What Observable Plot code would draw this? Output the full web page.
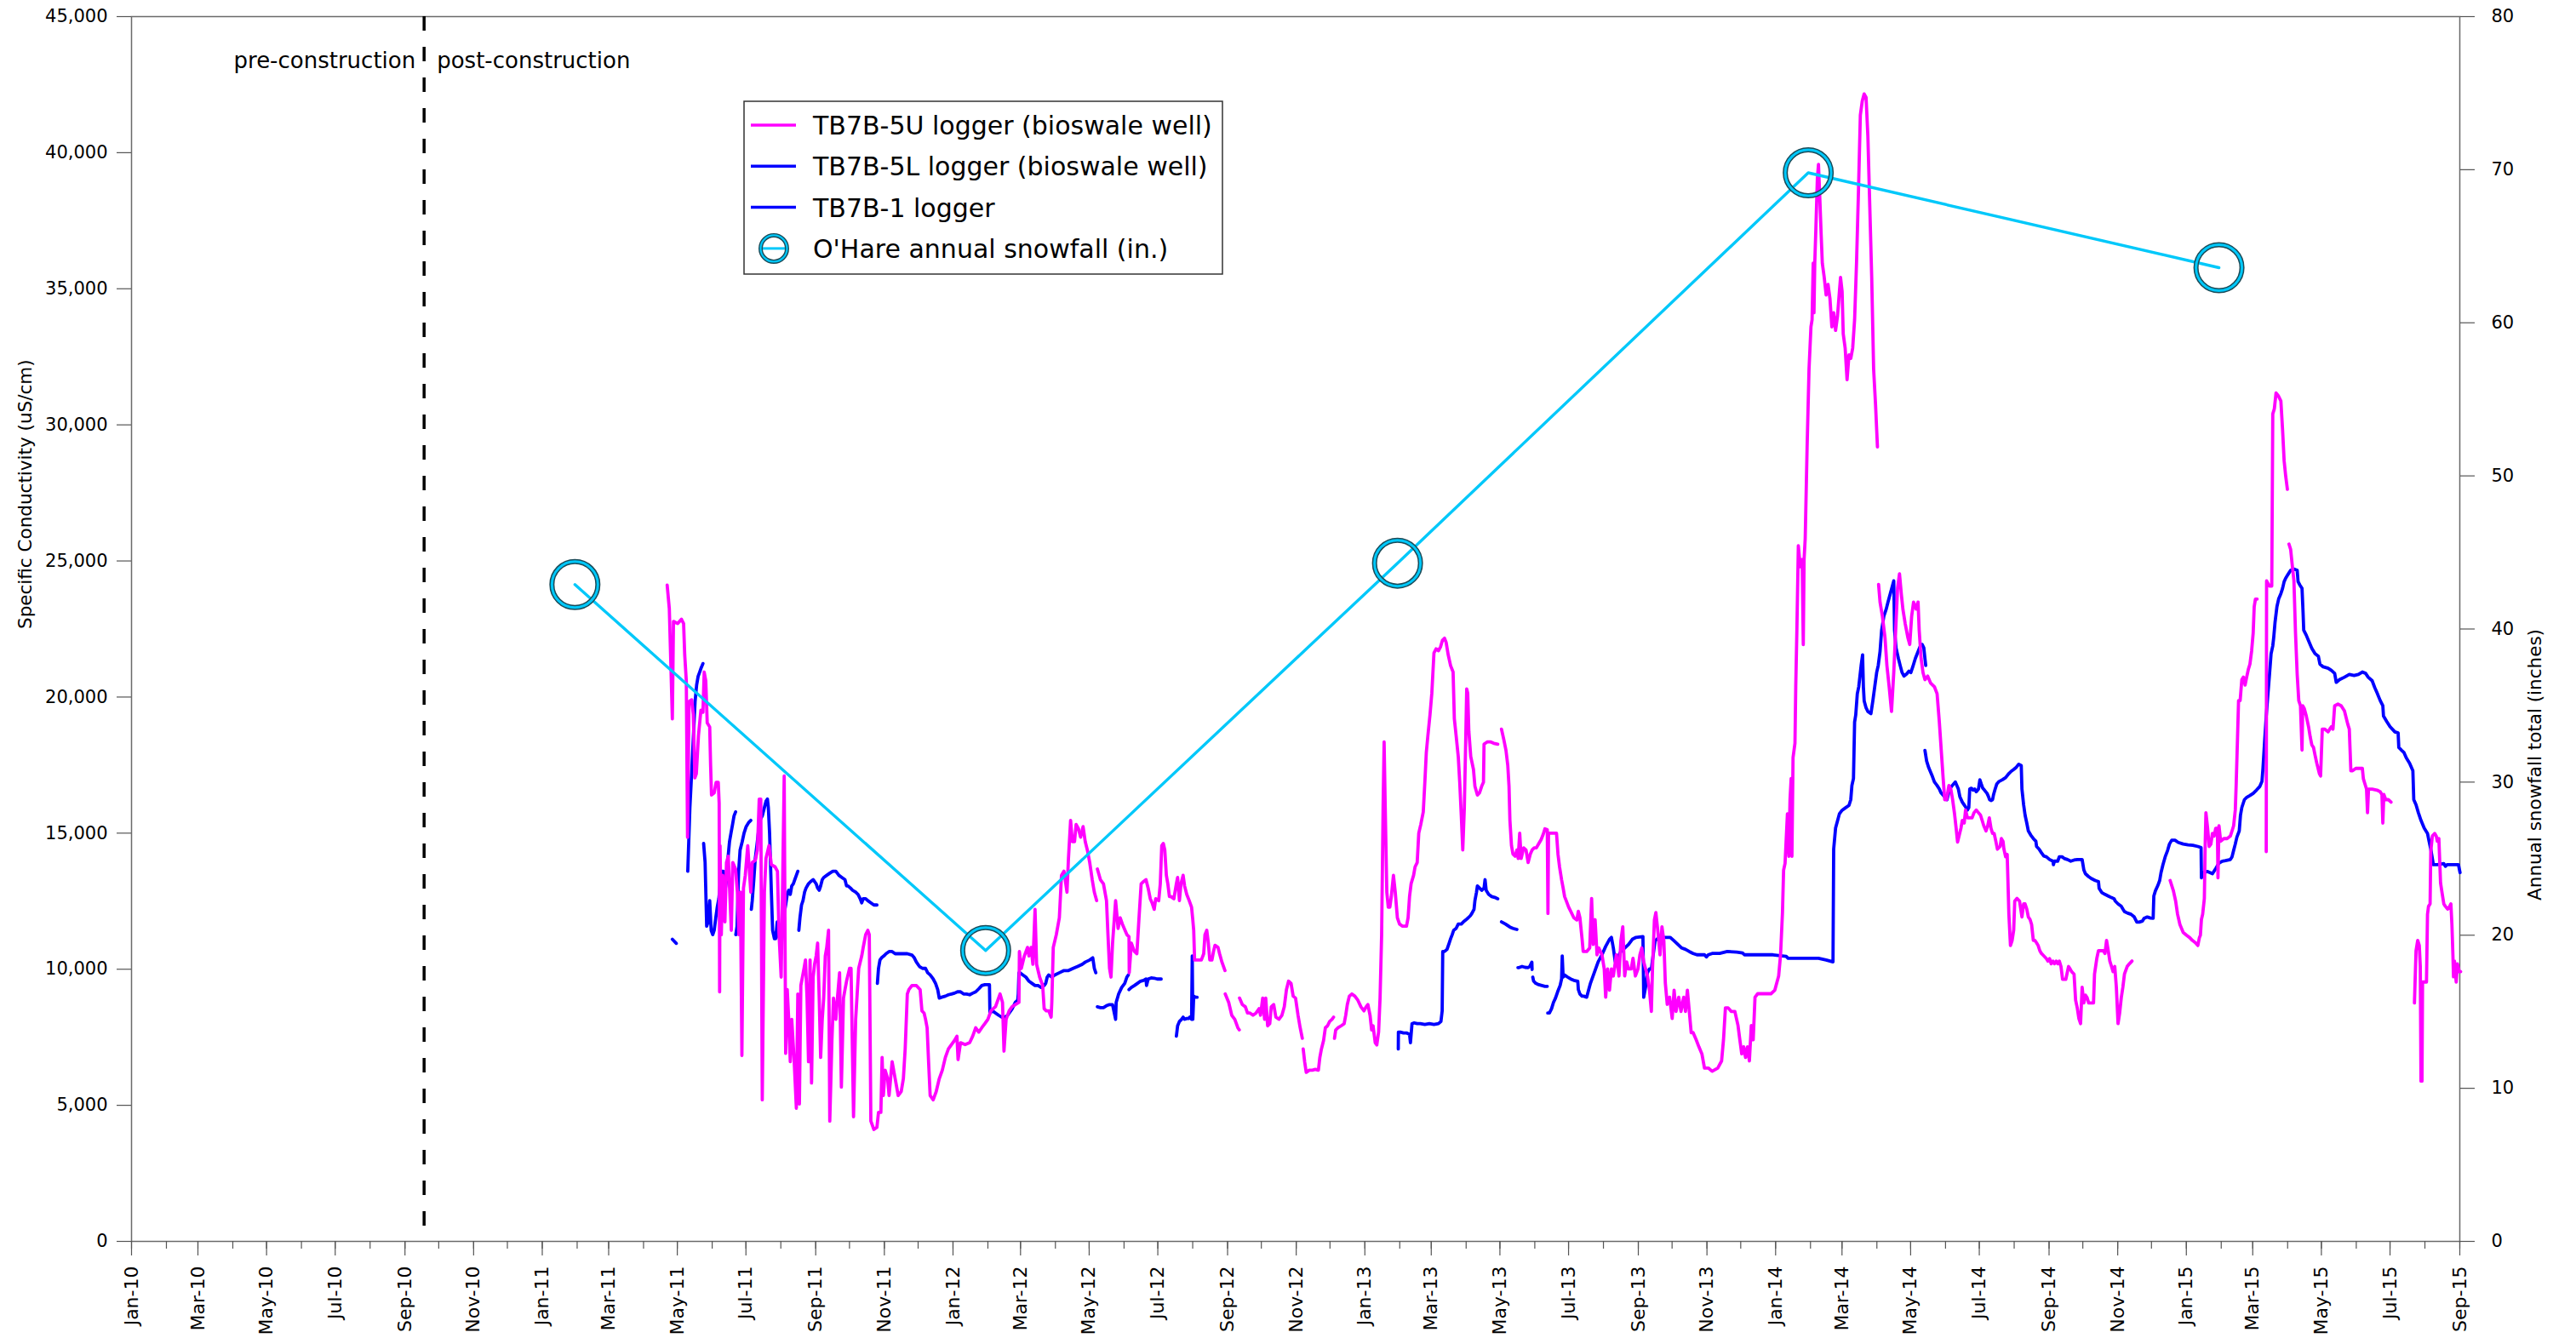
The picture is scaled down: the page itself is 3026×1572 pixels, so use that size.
<!DOCTYPE html>
<html>
<head>
<meta charset="utf-8">
<script src="https://cdn.jsdelivr.net/npm/d3@7"></script>
<script src="https://cdn.jsdelivr.net/npm/@observablehq/plot@0.6"></script>
<style>
  html, body { margin: 0; padding: 0; background: #fff; }
  #chart svg { display: block; }
</style>
</head>
<body>
<div id="chart"></div>
<script>
// Logger readings as [days since 2010-01-01, specific conductivity in uS/cm].
// A null entry marks a break in the logger record.
const recordStart = Date.UTC(2010, 0, 1);

const tb7b5U = [
  [476.0,24110],[477.9,23250],[480.6,19200],[481.6,22780],[485.4,22700],[488.7,22860],[490.6,22700],[491.6,21540],[493.0,20600],[494.1,14850],[495.4,19830],[497.8,19900],[499.2,19360],[500.6,17030],[501.9,17180],[503.8,18580],[506.0,19520],[507.8,19440],[508.9,20920],[510.3,20600],[511.6,19050],[513.8,18900],[514.6,17490],[515.4,16400],[517.8,16480],[519.5,16870],[521.4,16870],[522.2,16100],
  [522.6,9170],[523.0,14540],[524.1,11270],[525.4,13450],[527.3,11740],[528.7,13920],[530.3,14150],[531.6,12830],[533.0,11430],[534.3,13920],[536.8,13680],[538.4,12830],[539.7,11270],[541.1,12830],[542.4,6830],[543.8,12980],[545.4,13450],[547.6,14540],[550.3,12830],[551.6,13920],[554.3,14000],[556.2,14380],[557.8,16250],[559.2,16250],[560.5,5200],[562.4,12830],[563.8,14070],[566.5,14540],[568.6,13840],[571.9,13760],[574.0,13600],[575.4,11270],[577.3,9710],[578.6,13140],[580.0,17100],[581.3,6910],[582.7,9250],[584.0,8160],[585.4,6600],[586.7,8160],[588.9,6600],[590.8,4890],[592.1,9090],[593.5,5050],[594.8,9400],[597.6,10030],[598.9,10340],[600.3,8940],[601.6,6600],[603.0,10340],[604.3,5820],[605.7,9710],[607.0,10180],[608.4,10490],[609.7,10960],[611.1,8940],[612.4,6760],[613.8,8160],[615.1,8940],[616.5,10490],[617.8,10800],[619.4,11430],[620.5,4420],[622.4,7380],[623.8,8940],[625.9,8160],[627.3,8940],[629.2,9870],[630.8,5670],[632.7,8940],[634.0,9250],[635.4,9560],[638.1,10030],[639.4,10030],[641.6,4580],[643.5,8160],[646.2,10030],[648.9,10490],[650.2,10800],[652.4,11270],[654.3,11430],[655.6,11270],[657.0,4420],[659.7,4110],[662.4,4190],[663.8,4740],[665.9,4740],[667.0,6760],[668.1,5360],[669.7,6290],[671.9,5980],[673.2,5360],[675.9,6600],[678.6,5980],[681.3,5360],[684.0,5510],[685.9,5980],[687.5,7070],[689.4,9090],[690.8,9250],[693.5,9400],[697.5,9400],[700.8,9250],[702.4,8470],[704.3,8390],[705.6,8160],[707.0,7850],[708.3,6600],[709.7,5360],[712.4,5200],[715.1,5510],[717.8,5980],[720.5,6290],[723.2,6760],[725.9,7070],[728.6,7230],[731.3,7380],[733.5,7540],[734.5,6680],[736.7,7300],[740.8,7230],[744.8,7300],[747.5,7540],[750.2,7850],[752.9,7690],[755.6,7850],[758.3,8000],[761.0,8160],[763.7,8470],[767.8,8630],[771.8,9090],[774.0,8780],[775.3,6990],[777.2,8160],[779.9,8470],[782.6,8630],[785.3,8700],[788.6,8780],[789.0,10650],[790.7,10030],[793.4,10490],[796.2,10800],[797.5,10490],[799.4,10800],[801.0,10180],[802.9,12200],[804.3,10180],[807.0,9710],[809.7,9400],[811.0,8550],[812.9,8470],[815.1,8470],[817.2,8240],[817.8,8780],[819.1,10800],[821.8,11270],[824.5,11890],[826.4,13450],[828.6,13600],[831.3,12830],[832.6,14070],[834.5,15470],[836.1,14690],[838.0,14690],[839.4,15320],[841.5,15160],[843.4,14850],[845.6,15240],[847.5,14690],[849.4,14380],[851.5,13920],[853.7,13290],[855.6,12830],[857.7,12520],
  null,
  [858.3,13680],[861.0,13290],[863.7,13140],[866.4,12520],[867.7,11270],[869.1,10030],[870.4,9710],[871.8,10960],[874.5,12520],[876.7,11500],[878.6,11890],[880.5,11660],[884.5,11270],[886.4,11190],[886.6,9870],[888.5,10960],[891.2,10650],[893.4,10570],[895.3,11890],[897.2,13140],[899.3,13220],[901.5,13290],[903.4,12980],[905.3,12590],[906.9,12440],[908.8,12200],[910.1,12590],[912.8,12520],[914.2,13140],[915.5,14540],[916.9,14620],[918.2,14380],[919.6,13450],[920.9,13140],[922.3,12670],[923.6,12670],[926.3,12590],[928.5,13140],[929.6,13370],[931.2,12520],[932.6,13140],[934.5,13450],[935.8,13060],[937.7,12750],[939.9,12520],[942.0,12280],[943.1,11810],[943.9,11430],[944.7,10340],[948.0,10340],[950.7,10340],[952.8,10570],[953.9,11270],[955.5,11430],[956.9,10960],[958.2,10340],[960.1,10340],[961.5,10650],[962.8,10880],[965.5,10800],[966.9,10570],[969.0,10260],[971.7,9950],
  null,
  [971.9,9090],[975.0,8780],[977.7,8310],[980.4,8160],[983.1,7850],[984.4,7770],
  null,
  [984.6,8940],[987.1,8700],[989.8,8620],[991.7,8390],[993.9,8390],[996.6,8310],[999.3,8390],[1002.0,8550],[1003.3,8310],[1005.2,8940],[1006.9,8160],[1007.9,8940],[1009.6,7920],[1011.5,8000],[1012.8,8620],[1015.0,8700],[1016.9,8240],[1019.6,8160],[1022.3,8310],[1024.4,8620],[1026.3,9250],[1028.2,9560],[1030.4,9480],[1032.3,9010],[1034.4,8940],[1036.6,8310],[1038.5,7850],[1040.4,7460],
  null,
  [1041.2,7070],[1042.5,6600],[1043.9,6210],[1046.6,6290],[1049.3,6290],[1052.0,6320],[1054.7,6290],[1056.0,6760],[1057.4,7070],[1059.3,7380],[1060.9,7850],[1062.8,7920],[1064.7,8080],[1066.8,8160],[1068.2,8240],
  null,
  [1069.0,7460],[1070.1,7770],[1072.2,7850],[1074.9,7920],[1077.6,8000],[1079.0,8310],[1080.4,8700],[1082.2,9010],[1084.4,9090],[1087.1,9010],[1089.8,8860],[1092.5,8620],[1095.2,8470],[1097.1,8620],[1098.7,8700],[1100.6,8310],[1102.0,7770],[1103.3,7920],[1105.2,7300],[1106.6,7220],[1108.2,7690],[1109.5,8940],[1110.9,11270],[1112.2,15940],[1113.1,18350],[1114.1,15940],[1115.5,12830],[1116.8,12280],[1118.2,12280],[1119.5,12670],[1121.4,13450],[1123.0,12830],[1124.9,11890],[1126.8,11660],[1129.5,11580],[1133.0,11580],[1134.4,11890],[1135.7,12670],[1137.1,13140],[1139.3,13450],[1140.6,13760],[1142.5,13920],[1143.9,15000],[1145.7,15320],[1147.9,15780],[1149.3,16870],[1150.6,17960],[1152.0,18580],[1153.9,19360],[1155.5,20140],[1157.4,21620],[1159.3,21770],[1161.4,21700],[1163.3,21850],[1164.9,22080],[1166.8,22160],[1168.2,22010],[1170.1,21540],[1172.2,21150],[1174.4,20920],[1175.5,19210],[1177.1,18580],[1179.0,17810],[1180.3,16870],[1181.7,15630],[1183.0,14380],[1184.4,15940],[1185.7,18580],[1186.5,20300],[1187.4,20140],[1188.4,18740],[1190.1,17810],[1192.5,17340],[1193.8,16720],[1196.0,16400],[1197.9,16480],[1199.8,16720],[1201.4,16870],[1201.9,18270],[1204.7,18350],[1207.9,18350],[1210.6,18300],[1214.1,18270],
  null,
  [1217.4,18820],[1219.5,18430],[1221.4,18040],[1223.0,17490],[1224.1,16720],[1224.9,15470],[1226.3,14540],[1227.6,14230],[1229.5,14150],[1231.1,14380],[1232.2,14070],[1233.6,15000],[1234.9,14070],[1237.1,14460],[1239.2,14380],[1241.1,13920],[1243.0,14230],[1244.6,14380],[1246.5,14460],[1248.4,14460],[1250.6,14620],[1252.7,14770],[1254.6,14970],[1256.0,15160],[1258.1,15130],[1258.7,12050],[1259.2,15000],[1261.4,15000],[1264.1,15000],[1266.3,15000],[1267.6,14230],[1269.0,13760],[1270.8,13290],[1272.2,12980],[1273.5,12670],[1274.9,12520],[1277.1,12280],[1278.9,12130],[1281.7,11890],[1284.4,11810],[1285.7,12130],[1287.1,11890],[1289.0,11120],[1290.0,10650],
  [1293.1,10650],[1295.8,10780],[1297.5,12600],[1298.9,10910],[1300.6,11820],[1302.3,10530],[1303.9,10780],[1306.7,10530],[1308.7,10010],[1310.0,8970],[1311.7,10010],[1313.4,9230],[1315.1,10010],[1316.8,9750],[1319.5,10530],[1321.8,9750],[1323.5,11040],[1325.2,11560],[1326.9,9750],[1328.6,10270],[1330.3,10010],[1332.7,10010],[1334.3,10400],[1336.4,9750],[1338.7,10010],[1340.4,10530],[1342.1,10780],[1343.8,10270],[1345.5,10010],[1347.2,9750],[1348.9,9230],[1350.6,8450],[1351.6,10010],[1353.3,11820],[1354.6,12080],[1356.6,11300],[1358.3,10530],[1360.0,11560],[1361.7,11040],[1363.0,9490],[1364.7,8710],[1366.8,8970],[1369.1,8190],[1370.8,9230],[1372.5,8450],[1374.9,8970],[1376.9,8450],[1379.3,8970],[1380.9,8450],[1382.6,9230],[1384.3,8450],[1386.0,7670],[1387.7,7670],[1390.4,7410],[1392.8,7150],[1395.5,6890],[1397.8,6370],[1401.2,6370],[1404.6,6250],[1409.6,6370],[1413.0,6630],[1414.7,7410],[1416.4,8580],[1418.8,8580],[1421.5,8450],[1424.8,8450],[1427.6,7930],[1429.2,7410],[1430.9,6890],[1432.6,7150],[1434.3,6760],[1436.0,7150],[1437.7,6630],[1439.4,7930],[1441.1,7410],[1442.7,8970],[1445.1,9100],[1448.5,9100],[1451.9,9100],[1456.9,9100],[1460.3,9230],[1463.7,9750],[1465.4,10530],[1467.1,12080],[1468.1,13640],[1469.4,13890],[1471.5,15710],[1472.8,14150],[1473.8,16230],[1474.8,17010],[1475.5,14150],[1476.5,17780],[1478.2,18300],[1478.9,20380],[1479.9,22450],[1481.2,25560],[1482.9,24790],[1484.6,25050],[1485.6,21930],[1486.3,25050],[1487.3,25820],[1489.0,29190],[1490.7,32050],[1492.4,33600],[1493.4,33860],[1494.4,35940],[1495.1,34120],[1495.8,35940],[1496.8,37230],[1498.1,39050],[1499.1,39570],[1500.1,38530],[1501.5,36970],[1502.5,35940],[1504.2,35420],[1505.9,34770],[1507.6,35160],[1509.3,34640],[1511.0,33600],[1512.6,34120],[1514.3,33470],[1516.0,33990],[1517.7,34900],[1518.7,35420],[1520.1,34900],[1521.1,33340],[1522.8,32820],[1524.5,31660],[1526.2,32570],[1527.8,32440],[1529.5,32820],[1531.2,33860],[1532.9,35940],[1534.6,38530],[1536.3,41380],[1538.0,41900],[1539.7,42160],[1541.4,42030],[1543.0,40600],[1544.7,38010],[1546.4,35420],[1548.1,32050],[1549.8,30750],[1551.5,29190],
  null,
  [1552.5,24140],[1553.8,23490],[1555.9,22970],[1558.2,22190],[1559.9,21160],[1561.9,20380],[1564.0,19470],[1566.0,20900],[1567.4,22190],[1569.4,24010],[1571.1,24530],[1572.8,23750],[1574.1,23230],[1576.1,22710],[1578.5,22190],[1580.2,21930],[1581.9,22970],[1583.6,23490],[1585.9,23230],[1587.6,23490],[1588.6,22450],[1590.3,21410],[1592.0,20900],[1593.7,20640],[1596.1,20770],[1598.8,20510],[1602.1,20380],[1604.5,20120],[1606.5,19080],[1608.2,18040],[1609.9,17010],[1611.3,16230],[1612.9,16230],[1615.0,16750],[1616.7,16620],[1618.3,16230],[1620.0,15710],[1621.4,15190],[1622.7,14670],
  [1625.7,15180],[1626.9,15470],[1628.6,15370],[1629.8,15850],[1631.5,15560],[1633.5,15560],[1635.6,15560],[1637.3,15750],[1639.3,15850],[1641.3,15750],[1643.1,15660],[1644.5,15470],[1646.0,15270],[1648.0,15080],[1649.5,15270],[1650.9,15560],[1652.4,15180],[1653.8,14990],[1655.2,14990],[1656.7,14700],[1658.1,14410],[1660.5,14510],[1661.6,14800],[1663.1,14700],[1663.9,14410],[1665.4,14130],[1666.8,14220],[1668.3,12020],[1669.7,10870],[1671.2,11060],[1672.6,11450],[1673.5,12500],[1675.5,12600],[1677.8,12500],[1679.9,11920],[1681.4,12400],[1682.7,12400],[1684.2,12210],[1685.6,11920],[1687.1,11830],[1688.5,11640],[1690.0,11060],[1691.4,11060],[1692.9,10970],[1694.3,10870],[1695.8,10680],[1697.2,10580],[1699.3,10490],[1701.6,10390],[1703.0,10300],[1704.5,10390],[1705.9,10200],[1707.4,10300],[1708.8,10200],[1710.3,10300],[1711.7,10200],[1713.1,10300],[1714.6,10100],[1716.0,9630],[1718.9,9630],[1721.3,10100],[1722.7,10010],[1724.1,9910],[1726.2,9820],[1727.6,8860],[1729.1,8570],[1730.5,8190],[1732.0,8000],[1733.4,9340],[1734.9,8760],[1736.3,9050],[1737.8,8960],[1739.2,8760],[1741.5,8760],[1743.5,8760],[1744.4,9820],[1746.4,10390],[1747.9,10680],[1750.2,10680],[1752.2,10680],[1753.7,10580],[1755.1,11060],[1756.6,10680],[1758.0,10300],[1759.5,10100],[1760.9,9910],[1762.4,10100],[1763.8,9340],[1765.3,8000],[1766.7,8380],[1768.2,8960],[1769.6,9340],[1771.0,9820],[1773.4,10100],[1775.4,10200],[1777.7,10300],
  null,
  [1811.6,13260],[1814.5,12880],[1816.5,12500],[1818.2,12020],[1820.3,11640],[1823.2,11350],[1826.1,11250],[1829.0,11160],[1831.3,11060],[1834.2,10970],[1836.2,10870],[1837.6,11160],[1838.5,11250],[1839.4,11830],[1840.5,12020],[1842.0,12600],[1842.8,14700],[1843.4,15750],[1844.9,15180],[1846.3,14510],[1847.8,14600],[1849.2,14990],[1850.7,14890],[1852.1,15180],[1853.6,15180],[1854.1,13360],[1855.0,15270],[1856.5,14700],[1859.3,14800],[1862.2,14800],[1865.1,14890],[1866.6,15080],[1868.0,15270],[1869.5,15850],[1870.3,16810],[1871.5,18530],[1872.4,19870],[1873.8,19870],[1875.3,20640],[1876.7,20730],[1878.2,20440],[1879.6,20730],[1881.1,21020],[1882.5,21210],[1884.0,21690],[1885.4,22360],[1886.3,23320],[1887.4,23600],[1888.9,23600],
  null,
  [1897.0,14320],[1897.3,24270],[1898.4,24180],[1899.9,24080],[1901.9,24080],[1902.8,30400],[1904.2,30590],[1905.7,31170],[1907.7,31070],[1910.0,30880],[1911.5,29830],[1912.9,28680],[1914.3,28110],[1915.8,27630],
  null,
  [1917.2,25620],[1918.7,25420],[1920.1,24850],[1921.6,24270],[1923.0,22360],[1924.5,20830],[1925.9,19870],[1927.4,19680],[1928.8,18050],[1929.4,19680],[1930.8,19580],[1932.6,19300],[1934.6,18910],[1936.1,18530],[1937.5,18240],[1939.0,18150],[1940.4,17860],[1941.9,17570],[1944.2,17190],[1945.3,17100],[1946.8,18820],[1949.1,18820],[1952.0,18720],[1953.4,18820],[1954.9,18910],[1956.3,18820],[1957.8,19680],[1960.7,19740],[1963.6,19680],[1966.5,19490],[1969.4,19010],[1970.8,18820],[1972.2,17290],[1973.7,17290],[1976.6,17380],[1982.4,17380],[1983.3,17000],[1984.7,16810],[1986.1,16620],[1987.0,15750],[1987.9,16620],[1991.1,16620],[1995.4,16580],[1998.3,16520],[1999.8,16420],[2000.6,15370],[2001.5,16420],[2003.2,16230],[2005.5,16230],[2007.9,16140],
  null,
  [2028.7,8760],[2030.1,10680],[2031.6,11060],[2033.0,10870],[2033.9,10100],[2034.5,5890],[2035.4,5890],[2035.9,9530],[2038.0,9530],[2039.4,9530],[2040.3,12020],[2041.2,12310],[2042.6,12400],[2043.2,14320],[2044.6,14890],[2046.7,14990],[2048.1,14890],[2049.0,14700],[2050.4,14800],[2051.9,13170],[2053.3,12790],[2054.8,12400],[2056.2,12310],[2058.2,12210],[2060.0,12310],[2061.1,12400],[2062.0,11640],[2062.9,10490],[2063.4,9720],[2064.3,10300],[2065.8,9530],[2066.9,10200],[2068.6,9910],[2069.8,9910]
];

const tb7b5L = [
  [480.6,11100],[484.1,10950],
  null,
  [494.3,13600],[496.2,15940],[498.1,17490],[499.5,18740],[500.8,19830],[502.2,20450],[503.5,20760],[504.9,20920],[506.2,21070],[507.8,21230],
  null,
  [508.4,14620],[509.7,13920],[511.1,11580],[512.4,11740],[513.8,12520],[515.1,11430],[516.5,11270],[517.8,11430],[519.2,11890],[520.5,12280],[521.9,12590],[523.2,13140],[524.6,13600],[526.0,13600],[527.3,12830],[528.7,13290],[530.0,14070],[531.4,14690],[532.7,15000],[534.1,15320],[535.4,15630],[536.8,15780],
  null,
  [537.0,11270],[538.1,11580],[539.5,13600],[540.8,14380],[542.7,14690],[544.3,15000],[546.2,15240],[548.4,15390],[550.3,15470],
  null,
  [550.8,12200],[551.6,12520],[553.0,13290],[554.3,14070],[555.7,14540],[557.0,15000],[558.4,15470],[560.5,15630],[562.4,15940],[563.8,16170],[565.1,16250],[565.9,15940],[567.0,15000],[567.8,13920],[568.6,12830],[569.7,11430],[571.3,11120],[572.4,11120],[573.8,11740],[574.6,11270],[575.9,11120],[577.3,10800],[578.6,11580],[580.0,12050],[581.3,12360],[582.7,12750],[584.0,12900],[585.4,12750],[586.7,13060],[588.1,13140],[589.4,13290],[590.8,13450],[592.1,13600],
  null,
  [593.0,11430],[594.0,11890],[595.4,12360],[596.7,12520],[598.1,12830],[599.4,12980],[601.6,13140],[603.5,13220],[605.7,13290],[607.0,13220],[608.4,13140],[609.7,12980],[611.1,12900],[612.4,13060],[613.8,13290],[615.1,13370],[617.8,13450],[620.5,13530],[623.2,13600],[625.9,13600],[628.6,13450],[631.3,13370],[634.0,13290],[635.4,13060],[636.7,13060],[638.9,12980],[640.8,12900],[643.5,12830],[645.6,12750],[647.5,12590],[648.9,12440],[650.2,12590],[652.4,12590],[654.3,12520],[657.0,12440],[659.7,12360],[662.4,12360],
  null,
  [662.8,9480],[663.8,10030],[665.1,10340],[666.5,10420],[668.6,10490],[670.5,10570],[673.2,10650],[675.9,10650],[678.6,10570],[681.3,10570],[685.4,10570],[689.4,10570],[693.5,10520],[695.6,10420],[697.5,10260],[700.2,10100],[702.9,10030],[705.6,10030],[707.5,9870],[709.7,9790],[712.4,9640],[714.5,9480],[716.4,9250],[717.8,8940],[719.9,8970],[723.2,9010],[725.9,9060],[728.6,9090],[731.3,9120],[734.0,9170],[736.7,9170],[739.4,9090],[742.1,9090],[744.8,9060],[747.5,9120],[750.2,9170],[752.9,9280],[755.6,9400],[758.3,9430],[762.4,9430],[762.8,8390],[765.1,8470],[767.8,8390],[770.5,8310],[773.2,8240],[775.9,8240],[778.6,8310],[782.6,8550],[785.3,8780],[787.5,8860],[788.0,9090],[788.6,9870],[789.4,9870],[792.1,9790],[794.8,9710],[797.5,9560],[800.2,9480],[802.9,9400],[805.6,9400],[808.3,9330],[811.0,9400],[812.4,9480],[813.7,9710],[815.1,9790],[817.8,9710],[820.5,9790],[824.5,9870],[828.6,9950],[832.6,9950],[836.7,10030],[840.7,10100],[844.8,10180],[847.5,10260],[851.5,10340],[854.2,10420],[855.6,10030],[856.9,9870],
  null,
  [858.3,8620],[861.0,8590],[863.7,8590],[866.4,8660],[869.1,8700],[871.8,8700],[874.5,8160],[875.0,8780],[877.2,9090],[879.9,9330],[882.6,9480],[884.5,9710],[885.8,9790],
  null,
  [886.4,9250],[888.5,9330],[891.2,9400],[893.9,9480],[896.6,9560],[899.3,9590],[901.5,9640],[902.0,9400],[903.4,9640],[906.1,9680],[908.8,9670],[911.5,9640],[915.0,9640],
  null,
  [928.5,7540],[929.6,7920],[931.2,8080],[933.1,8160],[934.5,8240],[935.8,8160],[937.7,8190],[939.3,8190],[940.4,8240],[942.0,8160],[942.6,10490],[943.1,8160],[943.9,9010],[945.3,8970],[946.9,8970],
  null,
  [1125.7,7070],[1125.8,7690],[1127.6,7690],[1130.3,7660],[1133.0,7660],[1135.7,7610],[1136.5,7300],[1137.9,8000],[1139.8,8030],[1142.5,8000],[1145.2,8000],[1149.3,7970],[1153.3,8000],[1157.4,7970],[1161.4,8000],[1163.6,8080],[1164.7,8470],[1165.2,10650],[1166.8,10650],[1169.0,10730],[1170.9,10960],[1172.2,11120],[1173.6,11270],[1174.9,11430],[1177.1,11500],[1179.0,11660],[1181.7,11660],[1183.6,11740],[1185.7,11810],[1187.9,11890],[1189.8,11970],[1191.1,12050],[1193.0,12200],[1193.8,12520],[1195.2,12830],[1196.0,13060],[1197.9,12980],[1199.8,12900],[1201.9,12980],[1202.8,13290],[1203.8,12900],[1206.0,12750],[1208.7,12670],[1211.4,12640],[1214.1,12590],
  null,
  [1217.4,11740],[1220.9,11660],[1224.9,11550],[1227.6,11500],[1231.1,11460],
  null,
  [1245.2,9710],[1246.0,9560],[1247.9,9480],[1250.6,9430],[1253.3,9400],[1256.0,9370],[1258.1,9370],
  null,
  [1258.5,8390],[1260.0,8390],[1261.9,8550],[1263.6,8780],[1265.4,8940],[1267.3,9170],[1269.5,9400],[1270.8,9640],[1271.4,10490],[1272.2,9710],[1273.5,9790],[1276.2,9710],[1278.9,9640],[1281.7,9590],[1285.2,9560],[1285.7,9250],[1287.1,9090],[1289.0,9010],[1290.6,9010],
  [1293.1,8970],[1294.8,9230],[1296.5,9490],[1299.9,9880],[1303.3,10270],[1306.7,10530],[1310.0,10840],[1313.4,11100],[1315.1,11170],[1316.8,10780],[1318.5,10270],[1320.2,10400],[1323.5,10650],[1326.9,10780],[1330.3,10910],[1333.7,11100],[1337.0,11170],[1343.1,11200],[1343.8,8970],[1345.5,9360],[1347.2,9880],[1348.9,10010],[1350.6,10010],[1352.2,10530],[1353.9,11040],[1357.3,11170],[1360.7,11170],[1364.1,11170],[1367.4,11170],[1370.8,11040],[1374.2,10910],[1377.6,10780],[1380.9,10730],[1384.3,10650],[1387.7,10580],[1391.1,10530],[1397.8,10530],[1399.5,10450],[1401.2,10530],[1404.6,10580],[1411.3,10580],[1418.1,10650],[1426.5,10630],[1431.6,10600],[1433.3,10530],[1445.1,10530],[1458.6,10530],[1470.4,10470],[1472.1,10400],[1485.6,10400],[1499.1,10400],[1505.9,10340],[1512.0,10270],[1512.6,14410],[1514.3,15190],[1516.0,15450],[1517.7,15710],[1520.1,15840],[1522.8,15920],[1526.2,16020],[1527.8,16230],[1528.8,16750],[1530.2,17010],[1531.2,19080],[1532.2,19340],[1533.6,20120],[1534.9,20380],[1537.0,21160],[1538.3,21550],[1539.0,20380],[1539.7,19860],[1541.4,19600],[1543.0,19470],[1545.7,19390],[1547.4,19860],[1549.1,20380],[1550.8,20900],[1552.2,21160],[1553.8,21670],[1555.2,22450],[1557.2,22970],[1559.3,23230],[1560.9,23490],[1562.6,23750],[1564.3,24010],[1566.0,24270],[1566.7,22450],[1568.0,21810],[1570.1,21420],[1571.7,21160],[1573.4,20900],[1575.1,20770],[1577.5,20850],[1579.5,20950],[1581.2,20900],[1582.9,21110],[1585.2,21420],[1587.6,21670],[1588.9,21810],[1590.3,21930],[1591.3,21930],[1592.7,21810],[1593.7,21420],[1594.4,21160]
];

const tb7b1 = [
  [1232.0,10060],[1233.0,10060],[1235.7,10100],[1238.3,10070],[1241.1,10060],[1242.5,10100],[1244.4,10260],[1244.6,9990],
  null,
  [1593.7,18040],[1595.2,17650],[1597.1,17400],[1599.8,17140],[1602.1,16880],[1604.5,16750],[1606.5,16620],[1607.9,16490],[1610.6,16360],[1613.3,16230],[1615.6,16620],[1618.0,16750],[1620.7,16880],
  [1623.4,16620],[1624.8,16330],[1626.9,16140],[1629.2,16000],[1631.5,15850],[1632.7,15940],[1633.5,16620],[1635.0,16650],[1636.4,16580],[1637.9,16620],[1639.3,16520],[1641.3,16620],[1642.5,16960],[1643.7,16810],[1645.1,16650],[1646.6,16580],[1648.9,16460],[1650.3,16330],[1651.2,16230],[1652.4,16200],[1653.8,16230],[1654.7,16420],[1656.1,16620],[1657.6,16810],[1659.6,16900],[1662.5,16960],[1665.4,17040],[1668.3,17190],[1670.3,17270],[1672.6,17340],[1674.9,17420],[1677.0,17530],[1679.3,17480],[1679.9,16620],[1681.4,16040],[1682.7,15660],[1684.2,15370],[1685.6,15080],[1687.7,14930],[1690.0,14800],[1692.3,14700],[1692.9,14510],[1695.2,14410],[1697.2,14280],[1699.3,14160],[1701.6,14130],[1704.5,14030],[1707.4,13970],[1707.9,13840],[1708.8,13970],[1711.7,13970],[1713.1,14130],[1715.5,14130],[1717.5,14070],[1720.4,14030],[1723.3,13970],[1726.2,14010],[1729.1,14030],[1733.4,14030],[1734.9,13650],[1736.3,13510],[1739.2,13400],[1742.1,13320],[1745.0,13260],[1747.9,13220],[1748.5,12970],[1750.8,12820],[1753.7,12750],[1756.6,12690],[1759.5,12630],[1761.8,12590],[1762.9,12500],[1765.3,12400],[1768.2,12310],[1769.6,12210],[1771.0,12120],[1773.9,12060],[1776.8,12020],[1779.7,11920],[1782.0,11730],[1784.1,11730],[1787.0,11770],[1788.4,11870],[1791.3,11920],[1794.2,11880],[1796.5,11870],[1797.1,12690],[1798.5,12880],[1800.6,13070],[1802.3,13260],[1803.5,13550],[1805.2,13840],[1807.2,14130],[1809.3,14360],[1811.0,14600],[1813.0,14740],[1815.9,14740],[1818.8,14660],[1823.2,14600],[1827.5,14570],[1831.8,14550],[1836.2,14510],[1839.1,14470],[1839.4,13360],[1841.1,13550],[1844.9,13590],[1849.2,13510],[1852.1,13700],[1855.0,13900],[1857.9,13970],[1860.8,13990],[1865.1,14030],[1866.6,14130],[1868.0,14360],[1869.5,14600],[1870.9,14850],[1873.0,15080],[1874.1,15660],[1875.3,15940],[1877.6,16230],[1879.6,16310],[1882.5,16380],[1885.4,16460],[1888.3,16580],[1891.2,16710],[1893.2,16900],[1894.1,17380],[1895.5,18340],[1897.0,19300],[1898.4,20060],[1899.9,20830],[1901.3,21590],[1902.8,21880],[1903.6,22170],[1904.8,22740],[1906.5,23320],[1908.0,23600],[1910.0,23800],[1911.5,23990],[1912.9,24240],[1914.3,24370],[1915.8,24470],[1917.2,24560],[1918.7,24660],[1921.6,24700],[1924.5,24660],[1925.3,24240],[1926.8,24120],[1928.8,23990],[1929.7,23130],[1930.3,22460],[1932.6,22270],[1934.6,22070],[1937.5,21790],[1940.4,21590],[1943.3,21500],[1944.7,21210],[1947.6,21110],[1952.0,21060],[1954.9,20980],[1957.8,20870],[1959.2,20540],[1962.1,20640],[1966.5,20730],[1970.8,20830],[1975.1,20790],[1978.9,20830],[1982.4,20920],[1985.3,20870],[1987.6,20730],[1991.1,20600],[1993.4,20350],[1995.4,20160],[1998.3,19870],[2000.6,19680],[2001.2,19300],[2004.1,19100],[2007.0,18910],[2011.3,18720],[2014.2,18680],[2014.8,18150],[2017.1,18050],[2019.4,17960],[2021.5,17760],[2024.4,17570],[2027.3,17290],[2028.1,16230],[2030.1,16040],[2032.2,15750],[2034.5,15470],[2037.4,15180],[2040.3,14990],[2041.7,14700],[2043.2,14410],[2044.0,14220],[2045.5,13840],[2049.0,13840],[2054.8,13880],[2056.2,13780],[2057.7,13840],[2063.4,13840],[2067.8,13840],[2069.2,13550]
];

// O'Hare annual snowfall totals (inches), placed at the end of January of each winter
const snowDates = ["2011-01-30", "2012-01-30", "2013-01-30", "2014-01-30", "2015-01-30"];
const snowInches = [42.9, 19.0, 44.3, 69.8, 63.6];

// Bioswale construction completed
const constructionDate = "2010-09-18";

const xDomain = ["2010-01-01", "2015-09-01"];
const conductivityTicks = [0, 5000, 10000, 15000, 20000, 25000, 30000, 35000, 40000, 45000];
const snowfallTicks = [0, 10, 20, 30, 40, 50, 60, 70, 80];

const seriesColors = {magenta: "#ff00ff", blue: "#0000ff", cyan: "#00c8fa", ring: "#1a4a57"};
const legendItems = [
  {label: "TB7B-5U logger (bioswale well)", color: seriesColors.magenta},
  {label: "TB7B-5L logger (bioswale well)", color: seriesColors.blue},
  {label: "TB7B-1 logger", color: seriesColors.blue},
  {label: "O'Hare annual snowfall (in.)", color: seriesColors.cyan, snow: true}
];

// ---- build tables ----
const toRows = (readings) => readings.map(p => p
  ? {date: new Date(recordStart + p[0] * 864e5), value: p[1]}
  : {date: null, value: NaN});

const rows5U = toRows(tb7b5U);
const rows5L = toRows(tb7b5L);
const rows1 = toRows(tb7b1);

// The snowfall axis (0–80 in.) shares the frame with the conductivity axis (0–45,000)
const yMax = d3.max(conductivityTicks);
const snowMax = d3.max(snowfallTicks);
const inchesToY = v => v * yMax / snowMax;
const snowRows = snowDates.map((d, i) => ({date: new Date(d), inches: snowInches[i]}));

const start = new Date(xDomain[0]);
const end = new Date(xDomain[1]);
const labelMonths = d3.utcMonth.every(2).range(start, d3.utcDay.offset(end, 1));
const allMonths = d3.utcMonth.range(start, d3.utcDay.offset(end, 1));

const font = "DejaVu Sans, Verdana, sans-serif";
const loggerWidth = 3.8;

const chart = Plot.plot({
  width: 3026,
  height: 1572,
  marginLeft: 154,
  marginRight: 137,
  marginTop: 19,
  marginBottom: 114,
  style: {fontFamily: font, fontSize: "21px", color: "black", background: "white"},
  x: {type: "utc", domain: [start, end]},
  y: {domain: [0, yMax]},
  marks: [
    Plot.frame({stroke: "#6a6a6a", strokeWidth: 1.5}),
    Plot.axisX({ticks: allMonths, tickSize: 9, tickFormat: () => "", stroke: "#555", strokeWidth: 1.2, label: null}),
    Plot.axisX({ticks: labelMonths, tickSize: 17, tickPadding: 12, tickRotate: -90,
      tickFormat: d3.utcFormat("%b-%y"), fontSize: 22, stroke: "#555", strokeWidth: 1.2, fill: "black", label: null}),
    Plot.axisY({anchor: "left", ticks: conductivityTicks, tickFormat: d3.format(","), tickSize: 17, tickPadding: 11,
      fontSize: 21, stroke: "#555", strokeWidth: 1.2, fill: "black", label: null}),
    Plot.axisY({anchor: "right", ticks: snowfallTicks.map(inchesToY), tickFormat: v => d3.format("d")(Math.round(v * snowMax / yMax)),
      tickSize: 17, tickPadding: 20, fontSize: 21, stroke: "#555", strokeWidth: 1.2, fill: "black", label: null}),

    // construction divider
    Plot.ruleX([new Date(constructionDate)], {stroke: "black", strokeWidth: 3.5, strokeDasharray: "17,19"}),
    Plot.text([new Date(constructionDate)], {x: d => d, text: () => "pre-construction", frameAnchor: "top",
      dy: 52, dx: -10, textAnchor: "end", lineAnchor: "middle", fontSize: 26, fill: "black"}),
    Plot.text([new Date(constructionDate)], {x: d => d, text: () => "post-construction", frameAnchor: "top",
      dy: 52, dx: 15, textAnchor: "start", lineAnchor: "middle", fontSize: 26, fill: "black"}),

    // logger records
    Plot.line(rows1, {x: "date", y: "value", stroke: seriesColors.blue, strokeWidth: loggerWidth}),
    Plot.line(rows5L, {x: "date", y: "value", stroke: seriesColors.blue, strokeWidth: loggerWidth}),
    Plot.line(rows5U, {x: "date", y: "value", stroke: seriesColors.magenta, strokeWidth: loggerWidth}),

    // snowfall
    Plot.line(snowRows, {x: "date", y: d => inchesToY(d.inches), stroke: seriesColors.cyan, strokeWidth: 3.4}),
    Plot.dot(snowRows, {x: "date", y: d => inchesToY(d.inches), r: 27, stroke: seriesColors.ring, strokeWidth: 6, fill: "none"}),
    Plot.dot(snowRows, {x: "date", y: d => inchesToY(d.inches), r: 27, stroke: seriesColors.cyan, strokeWidth: 3, fill: "none"}),

    // axis titles
    Plot.text(["Specific Conductivity (uS/cm)"], {frameAnchor: "left", dx: -124, rotate: -90, fontSize: 21.5, fill: "black"}),
    Plot.text(["Annual snowfall total (inches)"], {frameAnchor: "right", dx: 89, rotate: -90, fontSize: 21.5, fill: "black"})
  ]
});

document.getElementById("chart").appendChild(chart);

// ---- legend box ----
const svg = d3.select(chart);
const legend = svg.append("g").attr("font-family", font).attr("font-size", 30)
  .attr("fill", "black").attr("text-anchor", "start");
const box = {x: 874, y: 119, w: 562, h: 203};
legend.append("rect").attr("x", box.x).attr("y", box.y).attr("width", box.w).attr("height", box.h)
  .attr("fill", "white").attr("stroke", "#333").attr("stroke-width", 1.5);

legendItems.forEach((item, i) => {
  const baseline = 158 + i * 48.3;
  const mid = baseline - 11;
  if (item.snow) {
    legend.append("line").attr("x1", 895).attr("x2", 923).attr("y1", mid).attr("y2", mid)
      .attr("stroke", item.color).attr("stroke-width", 3);
    legend.append("circle").attr("cx", 909).attr("cy", mid).attr("r", 15.5).attr("fill", "none")
      .attr("stroke", seriesColors.ring).attr("stroke-width", 5);
    legend.append("circle").attr("cx", 909).attr("cy", mid).attr("r", 15.5).attr("fill", "none")
      .attr("stroke", item.color).attr("stroke-width", 2.2);
  } else {
    legend.append("line").attr("x1", 882).attr("x2", 935).attr("y1", mid).attr("y2", mid)
      .attr("stroke", item.color).attr("stroke-width", 3.5);
  }
  legend.append("text").attr("x", 955).attr("y", baseline).attr("text-anchor", "start").text(item.label);
});
</script>
</body>
</html>
